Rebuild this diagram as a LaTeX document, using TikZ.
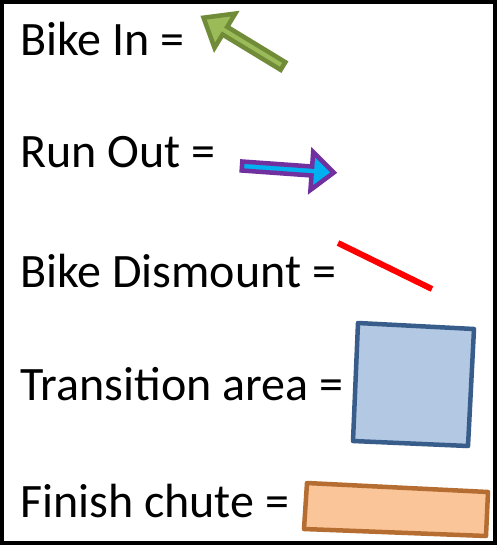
\documentclass[tikz,border=0pt]{standalone}
\usepackage{fontspec}
\setmainfont{Carlito}
\begin{document}
\begin{tikzpicture}[x=1pt,y=-1pt,
  lbl/.style={anchor=base west,inner sep=0pt,font=\fontsize{48}{56}\selectfont},
  shapeline/.style={line width=4.5pt,line join=round},
  arrowline/.style={line width=4.5pt,line join=miter}]
\useasboundingbox (0,0) rectangle (498,546);
\fill[white] (0,0) rectangle (498,546);
\draw[line width=4.5pt] (2,2) rectangle (495,543);
% labels
\node[lbl] (l1) at (20,55) {Bike In =};
\node[lbl] (l2) at (20,167) {Run Out =};
\node[lbl] (l3) at (20,287) {Bike Dismount =};
\node[lbl] (l4) at (20,400) {Transition area =};
\node[lbl] (l5) at (20,517) {Finish chute =};
% green arrow (Bike In)
\begin{scope}[shift={(283,66)},rotate=148.7]
\draw[arrowline, draw={rgb,255:red,112;green,140;blue,56}, fill={rgb,255:red,155;green,187;blue,89}]
  (0,4.5) -- (68,4.5) -- (68,20) -- (93,0) -- (68,-20) -- (68,-4.5) -- (0,-4.5) -- cycle;
\end{scope}
% purple arrow (Run Out)
\begin{scope}[shift={(242,166)},rotate=-4.1]
\draw[arrowline, draw={rgb,255:red,112;green,48;blue,160}, fill={rgb,255:red,0;green,176;blue,240}]
  (0,4.5) -- (70,4.5) -- (70,19) -- (92,0) -- (70,-19) -- (70,-4.5) -- (0,-4.5) -- cycle;
\end{scope}
% red line (Bike Dismount)
\coordinate (r1) at (338,243);
\coordinate (r2) at (432,289);
\draw[red, line width=6pt] (r1) -- (r2);
% blue square (Transition area)
\draw[shapeline, draw={rgb,255:red,56;green,93;blue,138}, fill={rgb,255:red,179;green,200;blue,226}]
  (358,323) -- (474,329) -- (468,446) -- (353,441) -- cycle;
% orange rectangle (Finish chute)
\draw[shapeline, draw={rgb,255:red,182;green,109;blue,49}, fill={rgb,255:red,250;green,197;blue,152}]
  (307,483) -- (488,492) -- (486,536) -- (304,529) -- cycle;
\end{tikzpicture}
\end{document}
